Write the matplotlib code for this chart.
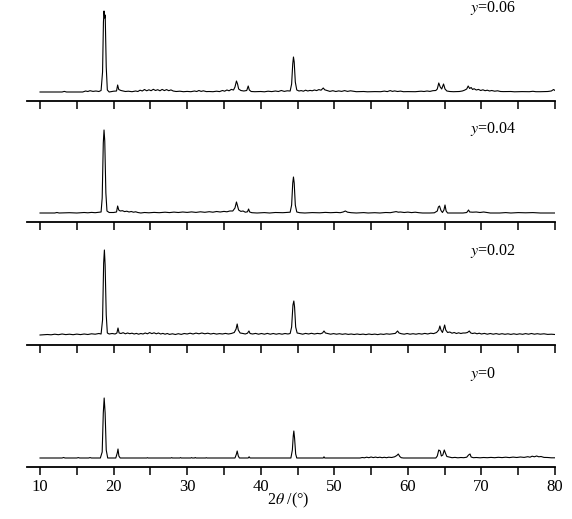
import matplotlib
matplotlib.use("Agg")
import matplotlib.pyplot as plt
from matplotlib.ticker import MultipleLocator

plt.rcParams['font.family'] = ['Liberation Serif', 'DejaVu Serif']
plt.rcParams['mathtext.fontset'] = 'stix'

# XRD patterns: (2theta, intensity above baseline, a.u.)
xrd_y006 = [
    (10, 0), (13, 0), (13.3, 0.6), (13.6, 0), (15.8, 0), (16.2, 1), (16.5, 0.5), (16.8, 1.3),
    (17.2, 0.6), (17.6, 1), (18.0, 0.5), (18.3, 1.5), (18.5, 20), (18.62, 70), (18.7, 81),
    (18.78, 74), (18.86, 77), (19.0, 25), (19.15, 2), (19.4, 0), (20.0, 0.8), (20.4, 1),
    (20.55, 7), (20.7, 2.5), (21.0, 1.5), (21.3, 1), (21.6, 0.5), (22.0, 0.8), (22.5, 0.3),
    (23.0, 1), (23.3, 0.5), (23.6, 1.8), (23.9, 1), (24.2, 2.5), (24.5, 1.2), (24.8, 2.2),
    (25.1, 1.3), (25.4, 2.7), (25.7, 1.5), (26.0, 2.3), (26.3, 1.2), (26.6, 2.6), (26.9, 1.4),
    (27.2, 2.4), (27.5, 1.3), (27.8, 2.1), (28.1, 1), (28.5, 0.5), (29.0, 0.8), (29.5, 0.3),
    (30.0, 0.6), (30.5, 0.3), (31.0, 1), (31.3, 0.5), (31.6, 1.5), (31.9, 0.6), (32.2, 1.2),
    (32.6, 0.4), (33.0, 0.5), (33.5, 0.3), (34.0, 0.8), (34.4, 0.4), (34.8, 1.5), (35.1, 0.8),
    (35.4, 2), (35.7, 1.2), (36.0, 2.6), (36.3, 2), (36.5, 5), (36.7, 11), (36.85, 8),
    (37.0, 3), (37.3, 1.5), (37.7, 1), (38.1, 1.5), (38.3, 6), (38.45, 2), (38.7, 0.5),
    (39.2, 0.3), (40.0, 0.5), (40.5, 0.2), (41.0, 0.8), (41.5, 0.4), (42.0, 1), (42.4, 0.5),
    (42.8, 1.5), (43.2, 0.6), (43.6, 1.2), (44.0, 1), (44.2, 8), (44.35, 28), (44.45, 35),
    (44.55, 30), (44.7, 10), (44.9, 2), (45.2, 1), (45.5, 1.4), (45.8, 0.8), (46.1, 1.8),
    (46.4, 1), (46.7, 1.6), (47.0, 1.2), (47.3, 2), (47.6, 1.4), (47.9, 2.4), (48.2, 1.8),
    (48.5, 4), (48.7, 2.2), (49.0, 1.5), (49.4, 0.6), (49.8, 1.3), (50.2, 0.5), (50.6, 1.1),
    (51.0, 0.6), (51.4, 1.4), (51.8, 0.6), (52.2, 1.2), (52.6, 0.8), (53.0, 0.3), (54.0, 0.5),
    (54.5, 0.2), (55.5, 0.4), (56.3, 0.3), (56.8, 0.9), (57.2, 0.4), (57.6, 1.4), (57.9, 0.6),
    (58.2, 1.1), (58.6, 0.5), (59.0, 0.9), (59.4, 0.3), (60.0, 0.4), (61.0, 0.3), (61.8, 0.8),
    (62.2, 0.5), (62.6, 1.0), (63.0, 0.6), (63.4, 1.3), (63.8, 1.5), (64.0, 3), (64.2, 9),
    (64.4, 5), (64.6, 3), (64.85, 8), (65.05, 3), (65.3, 1), (65.7, 0.5), (66.2, 0.3),
    (67.0, 0.5), (67.4, 1), (67.7, 1.8), (68.0, 3), (68.2, 6), (68.4, 3.5), (68.6, 4.5),
    (68.8, 2.5), (69.0, 3.3), (69.3, 2), (69.6, 2.6), (69.9, 1.5), (70.2, 2.2), (70.5, 1.3),
    (70.8, 1.8), (71.1, 1), (71.4, 1.5), (71.8, 0.8), (72.2, 1.2), (72.6, 0.5), (73.0, 0.4),
    (74.0, 0.5), (74.5, 0.2), (75.5, 0.4), (76.5, 0.3), (77.0, 0.7), (77.4, 0.3), (78.0, 0.3),
    (79.0, 0.5), (79.5, 1), (79.8, 2.5), (80.0, 1.5),
]

xrd_y004 = [
    (10, 0), (12, 0), (12.3, 0.5), (12.6, 0), (14, 0.3), (15, 0), (16, 0.5), (16.5, 0.2),
    (17, 0.6), (17.5, 0.3), (18.0, 0.8), (18.3, 1), (18.45, 15), (18.6, 70), (18.7, 83),
    (18.8, 72), (18.95, 20), (19.1, 2), (19.4, 0.5), (20.0, 0.5), (20.4, 1), (20.55, 7),
    (20.7, 3), (20.9, 2), (21.2, 2.3), (21.5, 1.4), (21.8, 1.8), (22.1, 1), (22.4, 1.5),
    (22.7, 0.8), (23.0, 1.2), (23.3, 0.5), (23.7, 0), (24.2, 0.5), (24.8, 0.2), (25.5, 0.6),
    (26.2, 0.3), (27.0, 0.8), (27.6, 0.4), (28.2, 0.9), (28.8, 0.5), (29.4, 1), (30.0, 0.6),
    (30.6, 1.1), (31.2, 0.6), (31.8, 1.2), (32.4, 0.7), (33.0, 1.3), (33.5, 0.8), (34.0, 1.5),
    (34.5, 1), (35.0, 1.6), (35.4, 1.2), (35.8, 2), (36.2, 2), (36.5, 5), (36.7, 11),
    (36.85, 7), (37.0, 3), (37.3, 1.6), (37.6, 2), (37.9, 0.8), (38.2, 1.2), (38.35, 4),
    (38.5, 1), (38.8, 0.3), (39.5, 0), (40.5, 0.4), (41.2, 0), (42.0, 0.5), (43.0, 0.3),
    (44.0, 0.8), (44.2, 8), (44.35, 30), (44.45, 36), (44.55, 30), (44.7, 8), (44.9, 1),
    (45.3, 0.3), (46.0, 0), (47.0, 0.4), (48.0, 0.2), (48.8, 0.6), (49.5, 0.3), (50.3, 0.6),
    (50.8, 0.3), (51.2, 1), (51.5, 2), (51.8, 0.8), (52.3, 0.3), (53.0, 0), (54.0, 0.4),
    (54.6, 0), (55.5, 0.3), (56.2, 0), (57.0, 0.5), (57.6, 0.3), (58.0, 0.8), (58.4, 1.4),
    (58.7, 0.8), (59.0, 1), (59.5, 0.5), (60.0, 0.9), (60.5, 0.4), (61.0, 0.8), (61.5, 0.3),
    (62.0, 0), (63.0, 0), (63.6, 0.2), (64.0, 2), (64.15, 6), (64.3, 7), (64.5, 2.5),
    (64.7, 0.5), (64.9, 3), (65.05, 8), (65.2, 2), (65.4, 0), (66.5, 0), (67.5, 0), (68.0, 0.5),
    (68.25, 3), (68.4, 1), (68.8, 0.8), (69.3, 1), (69.8, 0.5), (70.3, 1), (70.8, 0.5),
    (71.2, 0), (72.5, 0), (73.3, 0.4), (74.0, 0), (75.0, 0.4), (76.0, 0.2), (77.0, 0.4),
    (78.0, 0), (80.0, 0),
]

xrd_y002 = [
    (10, 0), (11, 0.5), (11.5, 0.2), (12, 0.8), (12.5, 0.3), (13, 1), (13.5, 0.4), (14, 0.8),
    (14.5, 0.3), (15, 0.9), (15.5, 0.4), (16, 1), (16.5, 0.5), (17, 1.2), (17.5, 0.8),
    (18.0, 1.5), (18.3, 1), (18.5, 15), (18.65, 72), (18.75, 85), (18.85, 70), (19.0, 20),
    (19.15, 2), (19.4, 1), (19.8, 1.5), (20.2, 1), (20.45, 2), (20.6, 7), (20.75, 2),
    (21.0, 1.5), (21.3, 2.3), (21.6, 1.2), (21.9, 2), (22.2, 1.3), (22.5, 1.8), (22.8, 1),
    (23.1, 1.6), (23.4, 0.8), (23.7, 1.5), (24.0, 1), (24.3, 2), (24.6, 1.2), (24.9, 2.4),
    (25.2, 1.4), (25.5, 2.2), (25.8, 1.2), (26.1, 2), (26.4, 1), (26.7, 1.6), (27.0, 0.8),
    (27.3, 1.5), (27.6, 0.6), (28.0, 1.2), (28.4, 0.5), (28.8, 1.3), (29.2, 0.6), (29.6, 1.5),
    (30.0, 1), (30.4, 1.8), (30.8, 1), (31.2, 1.9), (31.6, 1.2), (32.0, 2), (32.4, 1.2),
    (32.8, 1.8), (33.2, 1), (33.6, 1.6), (34.0, 0.9), (34.4, 1.4), (34.8, 1), (35.2, 1.6),
    (35.6, 1), (36.0, 1.5), (36.4, 2.5), (36.65, 6), (36.8, 11), (36.95, 5), (37.2, 2),
    (37.6, 1.5), (37.9, 1), (38.2, 1.8), (38.4, 4), (38.55, 1.5), (38.9, 1), (39.3, 1.6),
    (39.7, 0.8), (40.1, 1.5), (40.5, 0.8), (40.9, 1.6), (41.3, 0.8), (41.7, 1.5), (42.1, 0.8),
    (42.5, 1.4), (42.9, 0.8), (43.3, 1.5), (43.7, 1), (44.0, 1.5), (44.2, 8), (44.38, 30),
    (44.5, 34), (44.6, 28), (44.75, 8), (44.95, 2), (45.3, 1.5), (45.7, 0.8), (46.1, 1.6),
    (46.5, 1), (46.9, 1.7), (47.3, 1), (47.7, 1.6), (48.1, 1.2), (48.4, 2), (48.6, 4),
    (48.8, 2), (49.1, 1.5), (49.5, 0.8), (49.9, 1.4), (50.3, 0.8), (50.7, 1.3), (51.1, 0.7),
    (51.5, 1.2), (51.9, 0.6), (52.3, 1), (52.7, 0.5), (53.1, 1), (53.5, 0.5), (53.9, 0.9),
    (54.3, 0.4), (54.7, 1), (55.1, 0.5), (55.5, 0.9), (55.9, 0.4), (56.3, 1), (56.7, 0.6),
    (57.1, 1.2), (57.5, 0.8), (57.9, 1.2), (58.3, 1.6), (58.6, 4), (58.8, 2), (59.1, 1.3),
    (59.5, 0.8), (59.9, 1.5), (60.3, 0.8), (60.7, 1.3), (61.1, 0.8), (61.5, 1.4), (61.9, 0.9),
    (62.3, 1.6), (62.7, 1), (63.1, 1.8), (63.5, 1.4), (63.9, 2.5), (64.2, 5), (64.35, 9),
    (64.5, 5), (64.7, 2.5), (64.85, 6), (65.0, 10), (65.15, 5), (65.4, 2.5), (65.7, 3),
    (66.0, 1.8), (66.3, 2.5), (66.6, 1.5), (66.9, 2.2), (67.2, 1.5), (67.5, 2), (67.8, 2),
    (68.1, 2.5), (68.35, 4), (68.55, 2), (68.8, 1.5), (69.1, 2), (69.4, 1.2), (69.7, 1.8),
    (70.0, 1), (70.4, 1.6), (70.8, 0.8), (71.2, 1.5), (71.6, 0.8), (72.0, 1.4), (72.4, 0.7),
    (72.8, 1.3), (73.2, 0.7), (73.6, 1.2), (74.0, 0.6), (74.4, 1.2), (74.8, 0.6), (75.2, 1.2),
    (75.6, 0.7), (76.0, 1.4), (76.4, 0.8), (76.8, 1.5), (77.2, 0.8), (77.6, 1.3), (78.0, 0.8),
    (78.5, 1.2), (79.0, 0.6), (79.5, 0.8), (80.0, 0.5),
]

xrd_y000 = [
    (10, 0), (13.0, 0), (13.2, 0.5), (13.4, 0), (15.0, 0), (15.2, 0.4), (15.4, 0), (16.6, 0),
    (16.8, 0.4), (17.0, 0), (18.2, 0), (18.45, 6), (18.6, 45), (18.72, 60), (18.85, 45),
    (19.0, 8), (19.2, 0), (20.3, 0), (20.5, 5), (20.6, 9), (20.72, 2), (20.9, 0), (24.5, 0),
    (24.6, 0.3), (24.7, 0), (27.8, 0), (27.9, 0.4), (28.0, 0), (29.0, 0), (29.1, 0.4),
    (29.2, 0), (30.5, 0), (30.6, 0.4), (30.7, 0), (31.0, 0), (31.1, 0.5), (31.2, 0), (32.5, 0),
    (32.6, 0.3), (32.7, 0), (36.5, 0), (36.7, 4), (36.8, 7), (36.95, 2), (37.1, 0), (38.3, 0),
    (38.42, 1.2), (38.55, 0), (44.1, 0), (44.3, 8), (44.42, 22), (44.5, 27), (44.6, 20),
    (44.75, 4), (44.9, 0), (48.5, 0), (48.6, 1.2), (48.7, 0), (53.5, 0), (53.8, 0.5),
    (54.1, 0.2), (54.4, 0.8), (54.7, 0.3), (55.0, 1), (55.3, 0.4), (55.6, 0.9), (55.9, 0.4),
    (56.2, 0.8), (56.5, 0.3), (56.8, 0.7), (57.1, 0.3), (57.4, 0.8), (57.8, 0.5), (58.2, 1.2),
    (58.5, 2.5), (58.7, 4), (58.9, 1.5), (59.1, 0.3), (59.4, 0), (63.8, 0), (64.0, 2),
    (64.2, 8), (64.4, 7), (64.55, 2), (64.75, 3), (64.95, 8), (65.1, 5), (65.3, 1.5),
    (65.6, 1), (66.0, 0.3), (66.4, 0.6), (66.8, 0.2), (67.2, 0.5), (67.6, 0.3), (68.0, 0.8),
    (68.25, 3), (68.45, 4), (68.6, 1), (68.9, 0.3), (69.3, 0.5), (69.8, 0.2), (70.3, 0.5),
    (70.8, 0.3), (71.3, 0.6), (71.8, 0.3), (72.3, 0.7), (72.8, 0.4), (73.3, 0.8), (73.8, 0.4),
    (74.3, 0.9), (74.8, 0.5), (75.3, 1), (75.8, 0.6), (76.3, 1.3), (76.6, 0.8), (76.9, 1.8),
    (77.2, 1.2), (77.5, 2), (77.8, 1.2), (78.1, 1.5), (78.5, 0.6), (79.0, 0.5), (79.5, 0.2),
    (80.0, 0.2),
]

labels = ['0.06', '0.04', '0.02', '0']
patterns = [xrd_y006, xrd_y004, xrd_y002, xrd_y000]

W, H = 572, 519
fig = plt.figure(figsize=(W / 100, H / 100), dpi=100)

# pixel rows of each panel's axis line and label, from the top
axis_rows = [101, 222, 345, 467]
label_rows = [8, 129, 251, 374]
base_offsets = [9, 9, 10, 9]

for i, (pts, lab) in enumerate(zip(patterns, labels)):
    ax = fig.add_axes([27 / W, 1 - axis_rows[i] / H, (555 - 27) / W, 100 / H])
    xs = [p[0] for p in pts]
    ys = [p[1] for p in pts]
    ax.plot(xs, ys, color='black', linewidth=0.8)
    ax.set_xlim(8.23, 80)
    ax.set_ylim(-base_offsets[i], 100 - base_offsets[i])
    for side in ['top', 'left', 'right']:
        ax.spines[side].set_visible(False)
    ax.spines['bottom'].set_linewidth(1.3)
    ax.set_yticks([])
    ax.xaxis.set_major_locator(MultipleLocator(10))
    ax.xaxis.set_minor_locator(MultipleLocator(5))
    ax.tick_params(axis='x', which='both', direction='out', length=5.5, width=1.1,
                   labelsize=12, pad=3)
    ax.set_xticks([10, 20, 30, 40, 50, 60, 70, 80])
    if i < 3:
        ax.tick_params(axis='x', labelbottom=False)
    ax.patch.set_alpha(0)
    fig.text(470 / W, 1 - label_rows[i] / H, r'$y$=' + lab, fontsize=11.5,
             ha='left', va='center')

fig.text(288 / W, 1 - 500 / H, r'2$\theta$ /(°)', fontsize=11.5, ha='center', va='center')

fig.savefig('out.png', dpi=100)
